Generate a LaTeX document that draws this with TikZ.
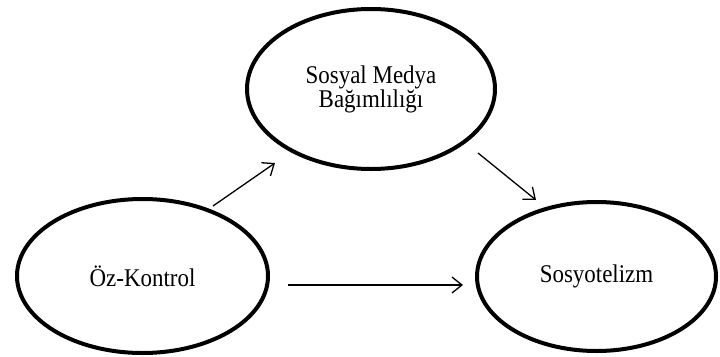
\documentclass[tikz,border=0pt]{standalone}
\usepackage{fontspec}
\setmainfont[FakeStretch=0.9]{Liberation Serif}
\usetikzlibrary{shapes.geometric,arrows.meta}
\begin{document}
\begin{tikzpicture}[x=1pt,y=-1pt,
  construct/.style={ellipse,draw=black,line width=4pt,inner sep=0pt,align=center,
    font=\fontsize{25.5}{24}\selectfont},
  path/.style={line width=1.3pt,-{Straight Barb[length=10pt,width=16pt,line width=1.3pt]}}]
\useasboundingbox (0,0) rectangle (720,356);
\node[construct,minimum width=248pt,minimum height=160pt] (smb) at (371,89) {Sosyal Medya\\Bağımlılığı};
\node[construct,minimum width=251pt,minimum height=154pt] (ozk) at (142.5,276) {Öz-Kontrol};
\node[construct,minimum width=239pt,minimum height=149pt] (sos) at (596.5,276.5) {Sosyotelizm};
\coordinate (a1s) at (213,206);
\coordinate (a1e) at (275,163);
\coordinate (a2s) at (478,153);
\coordinate (a2e) at (536,200);
\coordinate (a3s) at (288,285);
\coordinate (a3e) at (463,285);
\draw[path] (a1s) -- (a1e);
\draw[path] (a2s) -- (a2e);
\draw[path] (a3s) -- (a3e);
\end{tikzpicture}
\end{document}
